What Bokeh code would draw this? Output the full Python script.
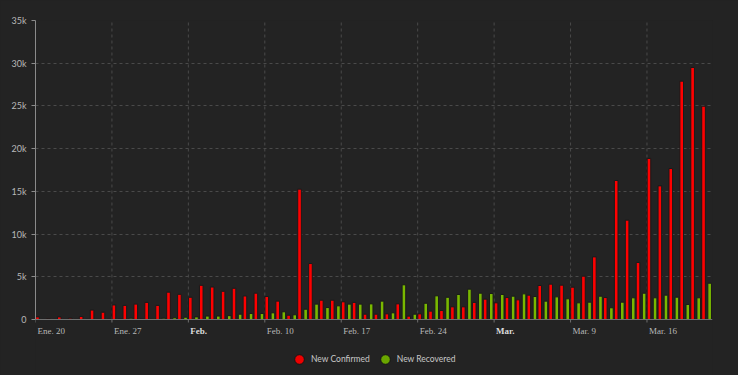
from bokeh.plotting import figure
from bokeh.models import (ColumnDataSource, Legend, LegendItem, FixedTicker, Range1d, Span)
from bokeh.embed import file_html
from bokeh.resources import INLINE

# ---- data (daily values, Jan 20 .. Mar 21) ----
day_index = list(range(62))
new_confirmed = [300, 100, 300, 150, 350, 1100, 850, 1700, 1650, 1800,
                 2000, 1650, 3200, 2950, 2600, 4000, 3800, 3300, 3650, 2750,
                 3080, 2690, 2150, 500, 15260, 6550, 2260, 2260, 2070, 2000,
                 620, 620, 660, 1830, 390, 660, 980, 1050, 1480, 1480,
                 2000, 2380, 1950, 2570, 2300, 2850, 3980, 4140, 4020, 3780,
                 5070, 7330, 2570, 16270, 11630, 6670, 18850, 15640, 17670, 27900,
                 29500, 24970]
new_recovered = [20, 10, 20, 15, 30, 20, 40, 60, 150, 60,
                 80, 150, 200, 270, 300, 400, 400, 450, 620, 700,
                 700, 780, 900, 550, 1200, 1800, 1400, 1600, 1800, 1800,
                 1830, 2150, 780, 4060, 620, 1900, 2770, 2600, 2930, 3550,
                 3080, 3040, 2930, 2730, 3000, 2690, 2150, 2650, 2420, 1950,
                 2030, 2730, 1370, 2030, 2540, 3080, 2540, 2850, 2610, 1760,
                 2540, 4250]
x_tick_days = [0, 7, 14, 21, 28, 35, 42, 49, 56]
x_tick_labels = ["Ene. 20", "Ene. 27", "Feb.", "Feb. 10", "Feb. 17",
                 "Feb. 24", "Mar.", "Mar. 9", "Mar. 16"]
x_tick_bold = [False, False, True, False, False, False, True, False, False]
y_ticks = [0, 5000, 10000, 15000, 20000, 25000, 30000, 35000]
y_tick_labels = ["0", "5k", "10k", "15k", "20k", "25k", "30k", "35k"]
series_names = ["New Confirmed", "New Recovered"]

# ---- layout constants (pixels) ----
W, H = 738, 375
TOP, LEFT, RIGHT = 20, 35, 26
ZERO_PX = 319            # page y of the value 0
Y_MAX = 35000
units_per_px = Y_MAX / (ZERO_PX - TOP)
y_start = -(H - ZERO_PX) * units_per_px

BG = "#232323"
RED = "#ff0000"
GREEN = "#79b800"
TXT = "#b8b8b8"
GRID = "#4a4a4a"
FONT = "Lato"

src = ColumnDataSource(dict(
    xr=[d + 0.18 for d in day_index],
    xg=[d + 0.74 for d in day_index],
    conf=new_confirmed,
    rec=new_recovered,
))

p = figure(width=W, height=H, output_backend="svg", toolbar_location=None,
           x_range=Range1d(0, len(day_index)), y_range=Range1d(y_start, Y_MAX),
           min_border_left=LEFT, min_border_right=RIGHT, min_border_top=TOP,
           min_border_bottom=0)
p.background_fill_color = BG
p.border_fill_color = BG
p.outline_line_color = None
p.xaxis.visible = False
p.xgrid.visible = False

# vertical dashed grid lines (only above zero)
p.segment(x0=x_tick_days, y0=[0] * len(x_tick_days), x1=x_tick_days,
          y1=[Y_MAX] * len(x_tick_days), line_color=GRID, line_dash="3 3",
          line_width=1)
# horizontal grid
p.ygrid.ticker = FixedTicker(ticks=y_ticks)
p.ygrid.grid_line_color = GRID
p.ygrid.grid_line_dash = "3 3"

p.vbar(x="xr", top="conf", width=0.33, source=src, fill_color=RED,
       line_color="#1a1a1a", line_width=1)
p.vbar(x="xg", top="rec", width=0.33, source=src, fill_color=GREEN,
       line_color="#1a1a1a", line_width=1)

# baseline (x axis line)
p.add_layout(Span(location=0, dimension="width", line_color="#6f6f6f", line_width=1))
# x tick marks
tick_len = 3 * units_per_px
p.segment(x0=x_tick_days, y0=[0] * len(x_tick_days), x1=x_tick_days,
          y1=[-tick_len] * len(x_tick_days), line_color="#6f6f6f", line_width=1)

# x tick labels
norm = [(t, l) for t, l, b in zip(x_tick_days, x_tick_labels, x_tick_bold) if not b]
bold = [(t, l) for t, l, b in zip(x_tick_days, x_tick_labels, x_tick_bold) if b]
p.text(x=[t for t, _ in norm], y=[0] * len(norm), text=[l for _, l in norm],
       x_offset=2, y_offset=11, text_align="left", text_baseline="middle",
       text_font_size="9px", text_color=TXT, text_font="Lato")
p.text(x=[t for t, _ in bold], y=[0] * len(bold), text=[l for _, l in bold],
       x_offset=2, y_offset=11, text_align="left", text_baseline="middle",
       text_font_size="9px", text_color="#dcdcdc", text_font="Lato",
       text_font_style="bold")

# y axis
p.yaxis.bounds = (0, Y_MAX)
p.yaxis.ticker = FixedTicker(ticks=y_ticks)
p.yaxis.major_label_overrides = {t: l for t, l in zip(y_ticks, y_tick_labels)}
p.yaxis.major_label_text_font = FONT
p.yaxis.major_label_text_font_size = "9px"
p.yaxis.major_label_text_color = TXT
p.yaxis.major_label_standoff = 5
p.yaxis.axis_line_color = "#8a8a8a"
p.yaxis.major_tick_line_color = "#8a8a8a"
p.yaxis.major_tick_out = 4
p.yaxis.major_tick_in = 0
p.yaxis.minor_tick_line_color = None

# legend with circle markers (proxy renderers holding a non-drawable NaN point)
nan = float("nan")
leg_src = ColumnDataSource(dict(x=[nan], y=[nan]))
r1 = p.scatter(x="x", y="y", source=leg_src, marker="circle", fill_color="#ee0000",
               line_color="#151515")
r2 = p.scatter(x="x", y="y", source=leg_src, marker="circle", fill_color="#6aa600",
               line_color="#151515")
legend = Legend(items=[LegendItem(label=series_names[0], renderers=[r1]),
                       LegendItem(label=series_names[1], renderers=[r2])],
                location=(252, 2), orientation="horizontal",
                glyph_width=24, glyph_height=28, label_standoff=0, spacing=3,
                padding=0, margin=0,
                background_fill_alpha=0, border_line_alpha=0,
                label_text_font=FONT, label_text_font_size="8.5px",
                label_text_color="#c8c8c8")
p.add_layout(legend, "center")

html = file_html(p, INLINE)
html = html.replace("<body>", '<body style="background-color:%s;">' % BG)
open("out.html", "w").write(html)
